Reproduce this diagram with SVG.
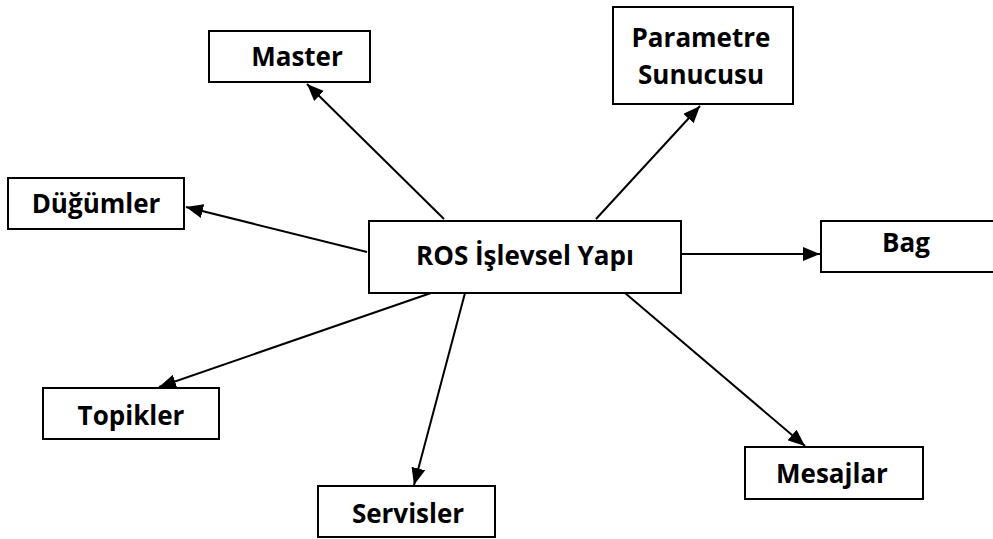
<svg xmlns="http://www.w3.org/2000/svg" width="993" height="539" viewBox="0 0 993 539">
<style>
.box{fill:#fff;stroke:#000;stroke-width:2}
.lbl{font-family:"Open Sans","Liberation Sans",sans-serif;font-weight:bold;font-size:26px;fill:#000;text-anchor:middle}
.conn{stroke:#000;stroke-width:2;fill:none;marker-end:url(#ah)}
</style>
<defs>
<marker id="ah" markerUnits="userSpaceOnUse" markerWidth="18" markerHeight="14" refX="17" refY="7" orient="auto">
<path d="M0,0 L17,7 L0,14 Z" fill="#000"/>
</marker>
</defs>
<rect width="993" height="539" fill="#fff"/>
<g id="connectors">
<line class="conn" x1="444" y1="219" x2="307" y2="84"/>
<line class="conn" x1="596" y1="219" x2="700" y2="106"/>
<line class="conn" x1="367" y1="252" x2="186" y2="207"/>
<line class="conn" x1="681" y1="254" x2="820" y2="254"/>
<line class="conn" x1="431" y1="293" x2="159" y2="387"/>
<line class="conn" x1="465" y1="293" x2="414" y2="485"/>
<line class="conn" x1="625" y1="293" x2="805" y2="446"/>
</g>
<g id="ros">
<rect class="box" x="369" y="221" width="312" height="72"/>
<text class="lbl" x="525" y="265">ROS İşlevsel Yapı</text>
</g>
<g id="master">
<rect class="box" x="209" y="31" width="161" height="51"/>
<text class="lbl" x="297" y="66">Master</text>
</g>
<g id="parametre">
<rect class="box" x="613" y="7" width="180" height="97"/>
<text class="lbl" x="701" y="47">Parametre</text>
<text class="lbl" x="701" y="84">Sunucusu</text>
</g>
<g id="dugumler">
<rect class="box" x="8" y="178" width="176" height="51"/>
<text class="lbl" x="96" y="213">Düğümler</text>
</g>
<g id="bag">
<rect class="box" x="821" y="221" width="190" height="51"/>
<text class="lbl" x="906" y="252">Bag</text>
</g>
<g id="topikler">
<rect class="box" x="43" y="388" width="176" height="51"/>
<text class="lbl" x="131" y="425">Topikler</text>
</g>
<g id="servisler">
<rect class="box" x="318" y="486" width="177" height="51"/>
<text class="lbl" x="408" y="523">Servisler</text>
</g>
<g id="mesajlar">
<rect class="box" x="745" y="447" width="178" height="52"/>
<text class="lbl" x="832" y="483">Mesajlar</text>
</g>
</svg>
